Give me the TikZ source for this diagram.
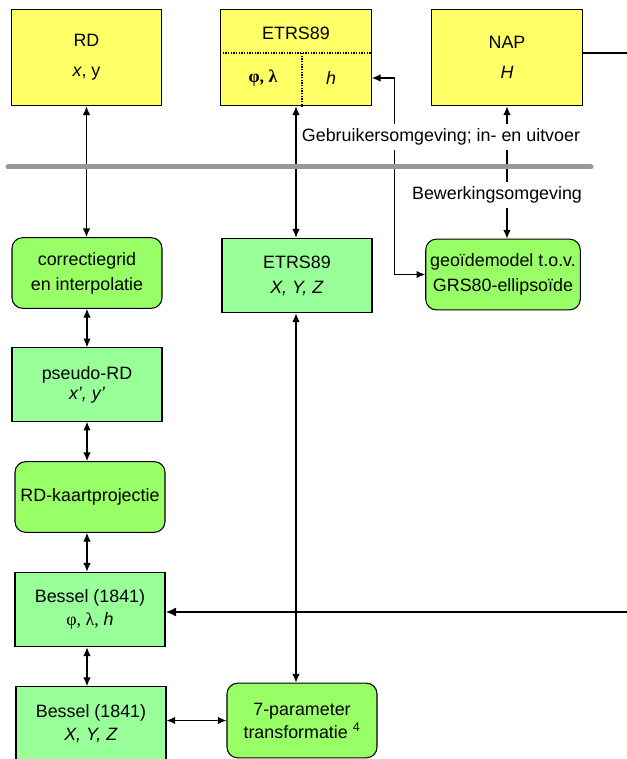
\documentclass[tikz,border=0pt]{standalone}
\usepackage{fontspec}
\setmainfont{Liberation Sans}
\newfontfamily\grieks{Liberation Serif}
\usetikzlibrary{shapes,arrows,arrows.meta}
\definecolor{geel}{HTML}{FFFF66}
\definecolor{groen}{HTML}{99FF66}
\definecolor{lichtgroen}{HTML}{99FF99}
\definecolor{scheiding}{HTML}{999999}
\tikzstyle{invoer} = [rectangle, draw, fill=geel, line width=0.8pt,
    minimum width=113pt, minimum height=72.5pt, text centered, align=center]
\tikzstyle{bewerking} = [rectangle, draw, fill=groen, %rounded corners,
    rounded corners=8pt, line width=0.8pt,
    minimum width=112.5pt, minimum height=53pt, text centered, align=center]
\tikzstyle{stelsel} = [rectangle, draw, fill=lichtgroen, line width=0.8pt,
    minimum width=112.5pt, minimum height=56pt, text centered, align=center]
\tikzstyle{omgeving} = [fill=white, inner xsep=1pt, inner ysep=3.5pt]
\tikzstyle{stippel} = [draw, densely dotted, line width=1pt]
\tikzstyle{line} = [draw, line width=0.8pt,
    {Latex[length=6.5pt,width=5.5pt]}-{Latex[length=6.5pt,width=5.5pt]}]
\tikzstyle{dikline} = [draw, line width=2.2pt, -{Latex[length=8pt,width=7pt]}]

\begin{document}
\begin{tikzpicture}[x=0.75pt, y=-0.75pt, font=\fontsize{13.4}{16}\selectfont]
    \useasboundingbox (0,0) rectangle (626,759);
    % gebruikersomgeving
    \node [invoer] (rd) at (86.5,57.5) {RD\\[6.5pt]\textit{x}, y};
    \node [invoer] (etrs) at (296,57.5) {};
    \node [invoer] (nap) at (507,57.5) {NAP\\[6.5pt]\textit{H}};
    \node (etrsnaam) at (296,33) {ETRS89};
    \node (etrsfl) at (263,78) {\grieks\bfseries φ, λ};
    \node (etrsh) at (331,78) {\textit{h}};
    \coordinate (deel) at (302,53);
    \path [stippel] (deel -| etrs.west) -- (deel -| etrs.east);
    \path [stippel] (deel) -- (deel |- etrs.south);
    % bewerkingsomgeving
    \node [bewerking] (grid) at (87,273) {correctiegrid\\[2.75pt]en interpolatie};
    \node [stelsel, minimum height=55pt] (pseudo) at (87,384.5) {pseudo-RD\\[-1pt]\textit{x’, y’}};
    \node [bewerking] (kaart) at (90,497) {RD-kaartprojectie};
    \node [stelsel] (besselgeo) at (90,609.5) {Bessel (1841)\\[1.25pt]{\grieks φ, λ,} \textit{h}};
    \node [stelsel] (besselxyz) at (91,724) {Bessel (1841)\\[1.25pt]\textit{X, Y, Z}};
    \node [stelsel] (etrsxyz) at (297,275.5) {ETRS89\\[2.75pt]\textit{X, Y, Z}};
    \node [bewerking] (geoide) at (503,274.5) {geoïdemodel t.o.v.\\[2.75pt]GRS80-ellipsoïde};
    \node [bewerking, minimum height=56pt] (zevenpar) at (302,720.5) {7-parameter\\[1.25pt]transformatie \textsuperscript{4}};
    \coordinate (naprechts) at (632,53);
    \coordinate (besselin) at (632,612);
    \path [line] (rd.south) -- (rd.south |- grid.north);
    \path [line] (grid.south) -- (grid.south |- pseudo.north);
    \path [line] (pseudo.south) -- (pseudo.south |- kaart.north);
    \path [line] (kaart.south -| pseudo.south) -- (pseudo.south |- besselgeo.north);
    \path [line] (besselgeo.south -| pseudo.south) -- (pseudo.south |- besselxyz.north);
    \path [line] (besselxyz.east |- zevenpar.west) -- (zevenpar.west);
    \path [line] (etrs.south) -- (etrs.south |- etrsxyz.north);
    \path [line] (etrsxyz.south -| etrs.south) -- (etrs.south |- zevenpar.north);
    \path [line] (nap.south) -- (nap.south |- geoide.north);
    \path [line] (etrsh -| etrs.east) -- ++(23,0) |- (geoide.west);
    \draw [line width=0.8pt] (naprechts -| nap.east) -- (naprechts);
    \path [dikline] (besselin) -- (besselin -| besselgeo.east);
    % scheiding
    \draw [scheiding, line width=3.75pt, line cap=round] (8,167) -- (591,167);
    \node [omgeving] (gebruik) at (441,137) {Gebruikersomgeving; in- en uitvoer};
    \node [omgeving] (bewerk) at (497,195) {Bewerkingsomgeving};
\end{tikzpicture}
\end{document}
